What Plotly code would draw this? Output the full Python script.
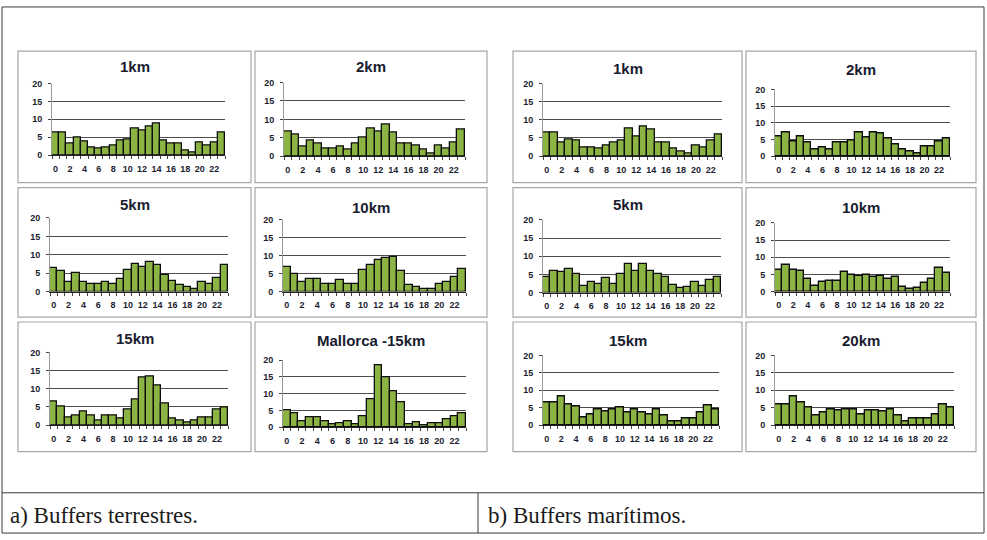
import plotly.graph_objects as go

# Hourly distribution (%) of records per buffer, hours 0-23
hours = list(range(24))
hour_ticks = list(range(0, 24, 2))
hour_labels = [str(h) for h in hour_ticks]
pct_ticks = [0, 5, 10, 15, 20]

# a) terrestrial buffers
terr_1km = [6.2, 6.2, 3.2, 5.0, 3.8, 2.2, 1.8, 2.2, 2.8, 4.0, 4.5, 7.5,
            6.8, 8.0, 8.8, 4.2, 3.2, 3.2, 1.3, 0.8, 3.6, 2.6, 3.6, 6.2]
terr_2km = [6.8, 6.0, 2.5, 4.2, 3.4, 2.0, 2.2, 2.5, 1.8, 3.5, 5.0, 7.6,
            6.8, 8.5, 6.3, 3.4, 3.4, 2.9, 1.8, 0.8, 3.0, 2.2, 3.8, 7.2]
terr_5km = [6.4, 5.5, 2.5, 5.0, 2.6, 2.0, 2.0, 2.5, 2.0, 3.3, 6.0, 7.6,
            6.8, 8.0, 7.2, 4.6, 3.0, 1.7, 1.2, 0.8, 2.5, 2.0, 3.8, 7.2]
terr_10km = [6.8, 4.9, 2.6, 3.6, 3.6, 2.2, 2.2, 3.2, 2.2, 2.2, 6.0, 7.5,
             8.8, 9.3, 9.8, 5.8, 1.8, 1.3, 0.8, 0.8, 2.2, 2.8, 4.2, 6.2]
terr_15km = [6.4, 5.0, 2.2, 2.6, 3.8, 2.6, 1.2, 2.6, 2.6, 1.8, 4.2, 7.0,
             13.0, 13.4, 11.0, 6.0, 1.8, 1.2, 0.8, 1.2, 2.0, 2.0, 4.2, 4.8]
mallorca_15km = [5.0, 4.2, 1.8, 2.8, 2.8, 1.8, 0.8, 1.2, 1.8, 0.8, 3.3, 8.4,
                 18.6, 15.0, 10.6, 7.3, 0.8, 1.3, 0.5, 1.2, 1.2, 2.4, 3.2, 4.2]

# b) maritime buffers
mar_1km = [6.4, 6.4, 3.8, 4.6, 4.2, 2.4, 2.4, 2.0, 2.8, 3.8, 4.2, 7.7,
           5.5, 8.1, 7.3, 3.8, 3.8, 2.2, 1.2, 0.8, 3.0, 2.5, 4.2, 6.0]
mar_2km = [5.8, 7.2, 4.5, 5.8, 4.0, 1.9, 2.6, 1.9, 4.0, 4.0, 4.8, 7.1,
           5.6, 7.1, 6.8, 5.4, 3.6, 2.0, 1.5, 0.8, 2.9, 2.9, 4.4, 5.4]
mar_5km = [4.2, 6.0, 5.6, 6.4, 5.0, 1.8, 3.0, 2.4, 4.0, 2.4, 5.0, 7.8,
           6.0, 7.8, 6.0, 5.0, 4.2, 2.0, 1.2, 1.6, 3.0, 1.8, 3.6, 4.2]
mar_10km = [6.4, 7.8, 6.4, 6.0, 3.6, 1.6, 2.8, 3.2, 3.2, 5.6, 5.0, 4.6,
            5.0, 4.2, 4.6, 3.6, 4.2, 1.4, 0.8, 1.2, 2.4, 3.6, 7.0, 5.4]
mar_15km = [6.4, 6.4, 8.2, 6.0, 5.4, 2.2, 3.2, 4.6, 4.0, 4.6, 5.0, 3.6,
            4.6, 3.6, 3.2, 4.6, 2.8, 1.2, 1.2, 1.8, 1.8, 3.6, 5.6, 4.6]
mar_20km = [6.0, 6.0, 8.2, 6.4, 5.0, 2.8, 3.6, 4.6, 4.2, 4.6, 4.6, 3.2,
            4.2, 4.2, 3.8, 4.6, 2.8, 1.2, 1.8, 1.8, 1.8, 3.2, 6.0, 5.0]

titles = ["1km", "2km", "5km", "10km", "15km", "Mallorca -15km",
          "1km", "2km", "5km", "10km", "15km", "20km"]
series = [terr_1km, terr_2km, terr_5km, terr_10km, terr_15km, mallorca_15km,
          mar_1km, mar_2km, mar_5km, mar_10km, mar_15km, mar_20km]

captions = ["a) Buffers terrestres.", "b) Buffers marítimos."]

# Page geometry (pixels)
W, H = 987, 540

# Chart frame box and plot area (left, top, right, bottom) for each small chart
frames = [
    (18, 47, 251, 181), (255, 47, 487, 181),
    (18, 186, 251, 318), (255, 186, 487, 318),
    (18, 323, 251, 455), (255, 323, 487, 455),
    (513, 47, 742, 181), (746, 47, 976, 181),
    (513, 186, 742, 318), (746, 186, 976, 318),
    (513, 323, 742, 455), (746, 323, 976, 455),
]
plot_areas = [
    (52, 80, 225, 153), (284, 79, 465, 154),
    (50, 217, 228, 292), (283, 219, 466, 292),
    (50, 354, 228, 428), (283, 362, 466, 430),
    (543, 80, 722, 154), (775, 86, 950, 154),
    (543, 219, 721, 293), (775, 222, 950, 292),
    (543, 357, 719, 428), (775, 357, 954, 428),
]
title_y = [63, 63, 203, 206, 340, 342, 65, 66, 203, 206, 342, 342]

BAR_GREEN = "#8cb444"
TICK_COLOR = "#1a1d30"
TICK_FONT = dict(family="Liberation Sans", size=9, color=TICK_COLOR,
                 weight="bold")


def fx(x):
    return x / W


def fy(y):
    return 1 - y / H


fig = go.Figure()
layout = {}
shapes = []
annotations = []

for i, (name, vals) in enumerate(zip(titles, series)):
    n = i + 1
    suffix = "" if n == 1 else str(n)
    fig.add_trace(go.Bar(
        x=hours, y=vals,
        xaxis="x" + suffix, yaxis="y" + suffix,
        marker=dict(color=BAR_GREEN, line=dict(color="#0d0d0d", width=1.3)),
        showlegend=False, hoverinfo="x+y",
    ))
    l, t, r, b = plot_areas[i]
    layout["xaxis" + suffix] = dict(
        domain=[fx(l), fx(r)], anchor="y" + suffix,
        range=[-0.5, 23.5], tickmode="array",
        tickvals=hour_ticks, ticktext=hour_labels,
        ticks="", showgrid=False, zeroline=False,
        showline=True, linecolor="#222222", linewidth=1,
        tickfont=TICK_FONT,
        ticklabelstandoff=5,
        minor=dict(tickmode="linear", tick0=-0.5, dtick=1,
                   ticks="outside", ticklen=3, tickcolor="#444444",
                   showgrid=False),
        fixedrange=True,
    )
    layout["yaxis" + suffix] = dict(
        domain=[fy(b), fy(t)], anchor="x" + suffix,
        range=[0, 20], tickmode="array", tickvals=pct_ticks,
        ticks="outside", ticklen=3, tickcolor="#444444",
        showgrid=True, gridcolor="#4d4d4d", gridwidth=1.3,
        zeroline=False, showline=True, linecolor="#999999", linewidth=1,
        tickfont=TICK_FONT,
        ticklabelstandoff=4,
        fixedrange=True,
    )
    fl, ft, fr, fb = frames[i]
    shapes.append(dict(type="rect", xref="paper", yref="paper",
                       x0=fx(fl), x1=fx(fr), y0=fy(fb), y1=fy(ft),
                       line=dict(color="#a6a6a6", width=1.2),
                       fillcolor="rgba(0,0,0,0)", layer="below"))
    annotations.append(dict(
        text="<b>%s</b>" % name, xref="paper", yref="paper",
        x=fx((fl + fr) / 2), y=fy(title_y[i]),
        xanchor="center", yanchor="middle", showarrow=False,
        font=dict(family="Liberation Sans", size=15, color="#1a1d30"),
    ))

# Outer frame and caption row
frame_line = dict(color="#3a3a3a", width=1)
shapes += [
    dict(type="rect", xref="paper", yref="paper",
         x0=fx(2), x1=fx(984), y0=fy(538), y1=fy(2), line=frame_line),
    dict(type="line", xref="paper", yref="paper",
         x0=fx(2), x1=fx(984), y0=fy(497), y1=fy(497), line=frame_line),
    dict(type="line", xref="paper", yref="paper",
         x0=fx(478), x1=fx(478), y0=fy(497), y1=fy(538), line=frame_line),
]
for cap, x in zip(captions, [8, 486]):
    annotations.append(dict(
        text=cap, xref="paper", yref="paper", x=fx(x), y=fy(520),
        xanchor="left", yanchor="middle", showarrow=False,
        font=dict(family="Liberation Serif", size=23, color="#1a1a1a"),
    ))

fig.update_layout(
    width=W, height=H,
    margin=dict(l=0, r=0, t=0, b=0),
    paper_bgcolor="white", plot_bgcolor="white",
    bargap=0, shapes=shapes, annotations=annotations,
    **layout,
)

fig.write_html("out.html")
